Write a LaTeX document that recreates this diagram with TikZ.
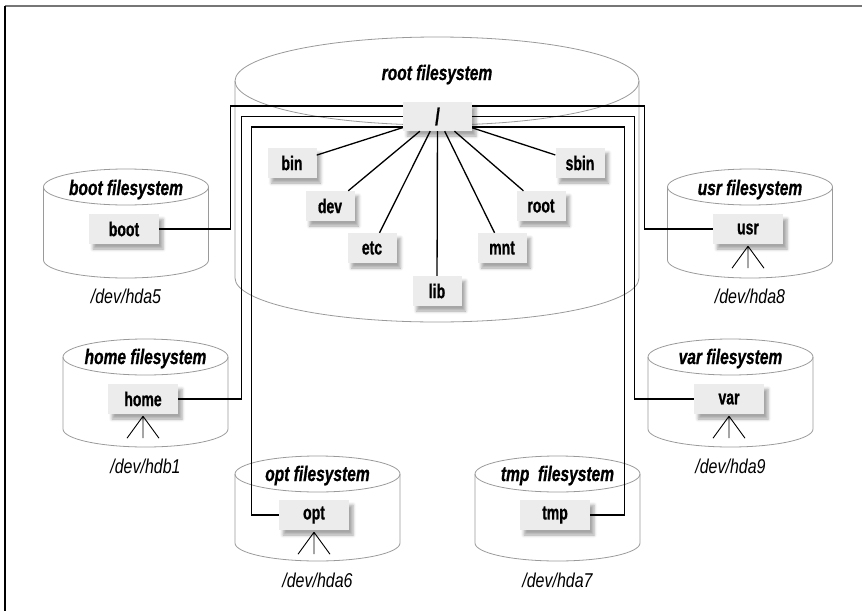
\documentclass[tikz,border=0pt]{standalone}
\usepackage{fontspec}
\usetikzlibrary{shadows.blur}
\newfontfamily\fslabelfont[FakeStretch=0.74, BoldItalicFeatures={FakeBold=0.8}]{Liberation Sans}
\newfontfamily\dirfont[FakeStretch=0.7, BoldFeatures={FakeBold=0.8}]{Liberation Sans}
\newfontfamily\devfont[FakeStretch=0.8]{Liberation Sans}
\definecolor{diskgray}{HTML}{9A9A9A}
\definecolor{boxgray}{HTML}{ECECEC}
\definecolor{framegray}{HTML}{767676}
% disk: centre x, top y, bottom y, x radius, y radius
\newcommand{\fsdisk}[5]{%
  \draw[disk] (#1,#2) ellipse [x radius=#4pt, y radius=#5pt];
  \draw[disk] (#1-#4,#2) -- (#1-#4,#3)
    arc [start angle=180, end angle=360, x radius=#4pt, y radius=#5pt]
    -- (#1+#4,#2);
}

\begin{document}
\begin{tikzpicture}[
		x=1pt, y=-1pt,
		disk/.style={draw=diskgray, line width=0.8pt},
		link/.style={draw=black, line width=1.3pt},
		leg/.style={draw=black, line width=0.9pt},
		fsname/.style={font=\fslabelfont\bfseries\itshape\fontsize{21}{21}\selectfont, anchor=base},
		devname/.style={font=\devfont\itshape\fontsize{20}{20}\selectfont, anchor=base},
		dirbox/.style={fill=boxgray, inner sep=0pt, minimum width=49pt, minimum height=30pt,
			font=\dirfont\bfseries\fontsize{20}{20}\selectfont,
			blur shadow={shadow xshift=4pt, shadow yshift=-5pt, shadow blur radius=3pt, shadow opacity=35}},
		mountbox/.style={dirbox, minimum width=70pt},
	]
	\useasboundingbox (0,0) rectangle (863,611);

	% frame
	\draw[framegray, line width=1.5pt] (5,6) -- (862,6);
	\draw[black, line width=1.5pt] (5,6) -- (5,611);

	% disks
	\fsdisk{437}{81}{278}{202}{44}
	\fsdisk{126}{187}{260}{82.5}{18}
	\fsdisk{750}{187}{260}{82.5}{18}
	\fsdisk{145.5}{357}{429}{82.5}{18}
	\fsdisk{730.5}{357}{429}{82.5}{18}
	\fsdisk{317.5}{474}{543}{82.5}{18}
	\fsdisk{557.5}{474}{543}{82.5}{18}

	% disk titles
	\node[fsname] (rootfs) at (437,80) {root filesystem};
	\node[fsname] (bootfs) at (126,195) {boot filesystem};
	\node[fsname] (usrfs) at (750,195) {usr filesystem};
	\node[fsname] (homefs) at (145.5,364) {home filesystem};
	\node[fsname] (varfs) at (730.5,364) {var filesystem};
	\node[fsname] (optfs) at (317.5,481) {opt filesystem};
	\node[fsname] (tmpfs) at (557.5,481) {tmp\ \ filesystem};

	% devices
	\node[devname] (hdafive) at (126,303) {/dev/hda5};
	\node[devname] (hdaeight) at (750,303) {/dev/hda8};
	\node[devname] (hdbone) at (145.5,473) {/dev/hdb1};
	\node[devname] (hdanine) at (730.5,473) {/dev/hda9};
	\node[devname] (hdasix) at (317.5,587) {/dev/hda6};
	\node[devname] (hdaseven) at (557.5,587) {/dev/hda7};

	% directories on the root disk
	\node[dirbox, minimum width=69pt, minimum height=29pt,
		font=\dirfont\bfseries\fontsize{24}{24}\selectfont] (slash) at (437.5,116.5) {/};
	\node[dirbox] (bin) at (292,163) {bin};
	\node[dirbox] (dev) at (330,206) {dev};
	\node[dirbox] (etc) at (372,248) {etc};
	\node[dirbox] (lib) at (437,291) {lib};
	\node[dirbox] (mnt) at (502,248) {mnt};
	\node[dirbox] (root) at (541,206) {root};
	\node[dirbox] (sbin) at (580,163) {sbin};

	\foreach \d in {bin,dev,etc,lib,mnt,root,sbin}
		\draw[link] (slash) -- (\d);

	% mount points
	\node[mountbox] (boot) at (124,229) {boot};
	\node[mountbox] (usr) at (748,229) {usr};
	\node[mountbox] (home) at (143,399) {home};
	\node[mountbox] (var) at (729,399) {var};
	\node[mountbox] (opt) at (314,515) {opt};
	\node[mountbox] (tmp) at (555,515) {tmp};

	% mount links
	\draw[link] ([yshift=10.5pt]slash.west) -| ([xshift=71pt]boot.east) -- (boot.east);
	\draw[link] (slash.west) -| ([xshift=63pt]home.east) -- (home.east);
	\draw[link] ([yshift=-10.5pt]slash.west) -| ([xshift=-27pt]opt.west) -- (opt.west);
	\draw[link] ([yshift=10.5pt]slash.east) -| ([xshift=-68pt]usr.west) -- (usr.west);
	\draw[link] (slash.east) -| ([xshift=-59pt]var.west) -- (var.west);
	\draw[link] ([yshift=-10.5pt]slash.east) -| ([xshift=34pt]tmp.east) -- (tmp.east);

	% subtrees below
	\foreach \m in {usr,home,var,opt}
		\draw[leg] ([yshift=-2pt]\m.south) -- ++(-16,22)
			([yshift=-2pt]\m.south) -- ++(0,22)
			([yshift=-2pt]\m.south) -- ++(16,22);

\end{tikzpicture}
\end{document}
